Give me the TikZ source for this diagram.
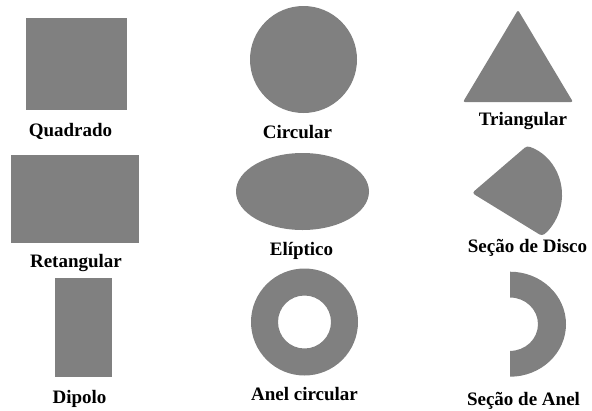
\documentclass[tikz,border=0pt]{standalone}
\usepackage{fontspec}
\setmainfont{Liberation Serif}
\usetikzlibrary{shapes.geometric}
\definecolor{shapegray}{HTML}{808080}
\begin{document}
\begin{tikzpicture}[x=1pt,y=-1pt,
  shapefill/.style={fill=shapegray, draw=none, inner sep=0pt, outer sep=0pt},
  lbl/.style={font=\fontsize{19}{22}\selectfont\bfseries, anchor=base, inner sep=0pt}]
\useasboundingbox (0,0) rectangle (592,410);
% left column
\node[shapefill, rectangle, minimum width=101pt, minimum height=92pt] (quad) at (76.5,64) {};
\node[shapefill, rectangle, minimum width=128pt, minimum height=88pt] (ret) at (75,199) {};
\node[shapefill, rectangle, minimum width=57pt, minimum height=99pt] (dip) at (83.5,327.5) {};
% middle column
\node[shapefill, circle, minimum size=107pt] (circ) at (303.5,59.5) {};
\node[shapefill, ellipse, minimum width=133pt, minimum height=77pt] (elip) at (302.5,191.5) {};
\coordinate (ringc) at (304.5,322);
\fill[shapegray, even odd rule] (ringc) circle[radius=53.5] (ringc) circle[radius=26.5];
% right column
\coordinate (ta) at (518,10);
\coordinate (tb) at (463,102);
\coordinate (tc) at (573,102);
\fill[shapegray, rounded corners=2pt] (ta) -- (tb) -- (tc) -- cycle;
\coordinate (dapex) at (472,193);
\coordinate (dc) at (510,195);
\fill[shapegray, rounded corners=3pt] (dapex) -- ([shift={(dc)}] -71:52) arc[start angle=-71, end angle=52, radius=52] -- cycle;
\coordinate (sc) at (510,324.2);
\fill[shapegray] ([shift={(sc)}] 0,-52.5) arc[start angle=-90, end angle=90, x radius=56, y radius=52.5]
  -- ([shift={(sc)}] 0,26.7) arc[start angle=90, end angle=-90, x radius=28, y radius=26.7] -- cycle;
% labels
\node[lbl] (lquad) at (70.5,136) {Quadrado};
\node[lbl] (lcirc) at (297.5,138) {Circular};
\node[lbl] (ltri) at (523,125) {Triangular};
\node[lbl] (lret) at (76,267) {Retangular};
\node[lbl] (lelip) at (301.5,255) {Elíptico};
\node[lbl] (ldisc) at (527.5,252) {Seção de Disco};
\node[lbl] (ldip) at (79.5,403) {Dipolo};
\node[lbl] (lring) at (304.5,400) {Anel circular};
\node[lbl] (lsec) at (523.5,405) {Seção de Anel};
\end{tikzpicture}
\end{document}
